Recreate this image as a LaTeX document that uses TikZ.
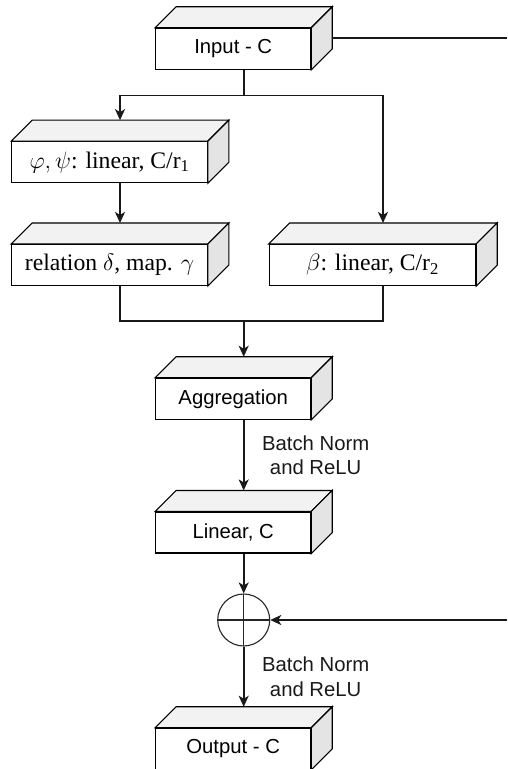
\RequirePackage{fix-cm}
\documentclass[tikz,border=0pt]{standalone}
\usepackage{fontspec}
\setmainfont{Liberation Serif}
\newfontfamily\sansf{Liberation Sans}
\usetikzlibrary{arrows.meta,calc}
\definecolor{topgray}{HTML}{F2F2F2}
\definecolor{sidegray}{HTML}{E4E4E4}
\newcommand\mycube[6][]{%
  \node[cubefront, minimum width=#5, #1] (#2) at (#3,#4) {#6};
  \draw[cubeface, fill=topgray] (#2.north west) -- ++(21,-21) -- ([shift={(21,-21)}]#2.north east) -- (#2.north east) -- cycle;
  \draw[cubeface, fill=sidegray] (#2.north east) -- ++(21,-21) -- ([shift={(21,-21)}]#2.south east) -- (#2.south east) -- cycle;
}
\begin{document}
\begin{tikzpicture}[x=1pt,y=-1pt,
  cubefront/.style={draw, fill=white, line width=1.1pt, minimum height=41pt, inner sep=0pt,
    font=\sansf\fontsize{20.3}{24}\selectfont},
  seriflbl/.style={font=\fontsize{23.7}{28}\selectfont},
  cubeface/.style={draw, line width=1.1pt, line join=miter},
  conn/.style={line width=1.8pt, draw=black!90, -{Stealth[length=11pt,width=10pt,inset=3pt]}},
  plainline/.style={line width=1.8pt, draw=black!90},
  lbl/.style={font=\sansf\fontsize{20.3}{24.3}\selectfont, align=center, inner sep=0pt, anchor=west, text=black!90},
  plus/.style={circle, draw=black!85, line width=1.1pt, minimum size=52pt, inner sep=0pt,
    path picture={\draw[line width=1.1pt, black!85] (path picture bounding box.north) -- (path picture bounding box.south)
      (path picture bounding box.west) -- (path picture bounding box.east);}}
]
\useasboundingbox (0,0) rectangle (507,769);

\mycube{in}{233.2}{48.8}{155}{Input - C}
\mycube[seriflbl]{phi}{109.5}{162.2}{195.6}{$\varphi, \psi$: linear, C/r\textsubscript{1}}
\mycube[seriflbl]{rel}{109.5}{265}{195.6}{relation $\delta$, map. $\gamma$}
\mycube[seriflbl]{beta}{372.5}{265}{206.4}{$\beta$: linear, C/r\textsubscript{2}}
\mycube{agg}{233.2}{398.8}{155}{Aggregation}
\mycube{lin}{233.2}{532.5}{155}{Linear, C}
\node[plus] (sum) at (243.7,620) {};
\mycube{out}{233.2}{748.8}{155}{Output - C}

\coordinate (rin) at (507,38.3);
\coordinate (rsum) at (507,620);

\draw[conn] ([xshift=10.5]in.south) -- ++(0,25.7) -| ([shift={(10.5,-21)}]phi.north);
\draw[conn] ([xshift=10.5]in.south) -- ++(0,25.7) -| ([shift={(10.5,-21)}]beta.north);
\draw[conn] ([xshift=10.5]phi.south) -- ([shift={(10.5,-21)}]rel.north);
\draw[plainline] ([xshift=10.5]rel.south) -- ++(0,35.3) coordinate (j) -| ([xshift=10.5]beta.south);
\draw[conn] (j -| sum) -- ([shift={(10.5,-21)}]agg.north);
\draw[conn] ([xshift=10.5]agg.south) -- ([shift={(10.5,-21)}]lin.north)
  node[lbl, midway, xshift=17.5] {Batch Norm\\and ReLU};
\draw[conn] ([xshift=10.5]lin.south) -- (sum.north);
\draw[conn] (sum.south) -- ([shift={(10.5,-21)}]out.north)
  node[lbl, midway, xshift=17.5] {Batch Norm\\and ReLU};
\draw[plainline] ([shift={(21,-10.5)}]in.east) -- (rin);
\draw[conn] (rsum) -- (sum.east);
\end{tikzpicture}
\end{document}
